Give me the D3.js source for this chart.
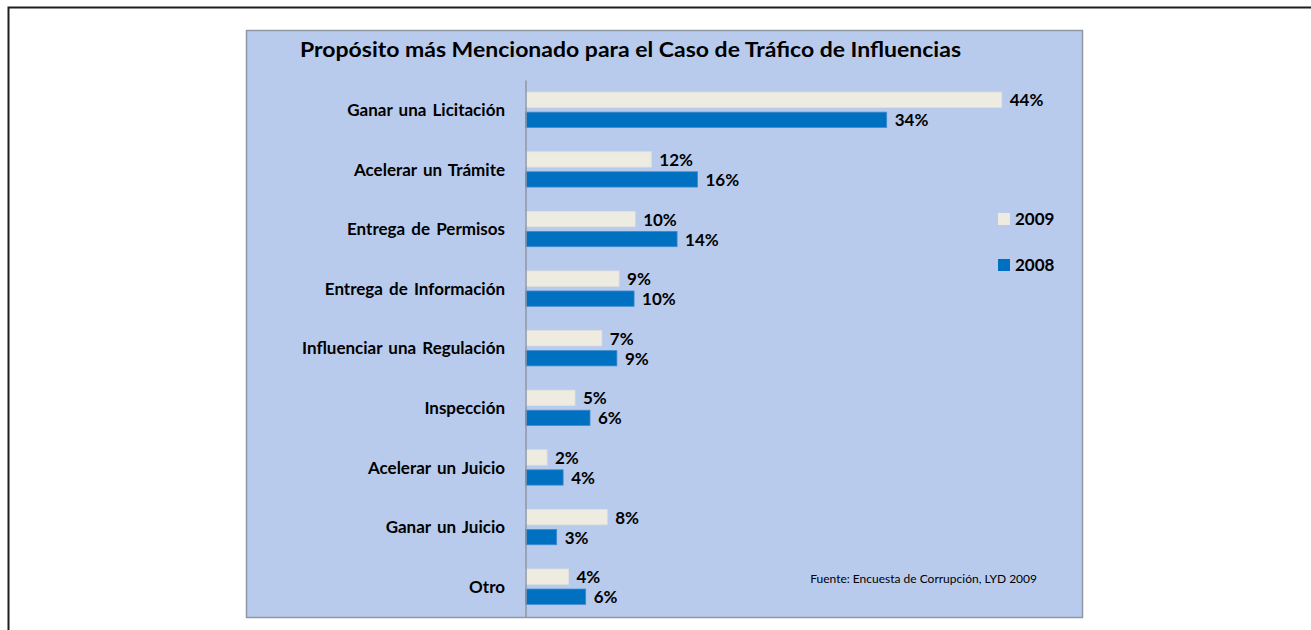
<!DOCTYPE html>
<html>
<head>
<meta charset="utf-8">
<script src="https://cdn.jsdelivr.net/npm/d3@7"></script>
<style>
  html, body { margin: 0; padding: 0; background: #fff; }
  svg { display: block; font-family: Lato, "Open Sans", sans-serif; }
</style>
</head>
<body>
<svg id="chart" width="1311" height="630"></svg>
<script>
// Data (percent)
var categories = ["Ganar una Licitación", "Acelerar un Trámite", "Entrega de Permisos",
  "Entrega de Información", "Influenciar una Regulación", "Inspección",
  "Acelerar un Juicio", "Ganar un Juicio", "Otro"];
var series = ["2009", "2008"];
var values2009 = [44.3, 11.7, 10.2, 8.7, 7.1, 4.6, 2.0, 7.6, 4.0];
var values2008 = [33.6, 16.0, 14.1, 10.1, 8.5, 6.0, 3.5, 2.9, 5.6];
var colors = ["#EEECE1", "#0070C0"];
var title = "Propósito más Mencionado para el Caso de Tráfico de Influencias";
var source = "Fuente: Encuesta de Corrupción, LYD 2009";

var svg = d3.select("#chart");

// Outer frame (runs off the right and bottom of the picture)
svg.append("path")
  .attr("d", "M8.5,630 L8.5,7.5 L1311,7.5")
  .attr("fill", "none")
  .attr("stroke", "#1e1e1e")
  .attr("stroke-width", 2);

// Chart panel
var panel = { x: 246, y: 30, w: 836, h: 587 };
svg.append("rect")
  .attr("x", panel.x + 0.5)
  .attr("y", panel.y + 0.5)
  .attr("width", panel.w)
  .attr("height", panel.h)
  .attr("fill", "#B9CBED")
  .attr("stroke", "#8f96a4")
  .attr("stroke-width", 1.5);

// Title
svg.append("text")
  .attr("x", 300)
  .attr("y", 57)
  .attr("font-size", "21px")
  .attr("font-weight", "700")
  .attr("fill", "#000")
  .attr("textLength", 661)
  .attr("lengthAdjust", "spacingAndGlyphs")
  .text(title);

// Scales
var plotLeft = 525.5, plotTop = 80, plotBottom = 616.5;
var x = d3.scaleLinear().domain([0, 50]).range([plotLeft, plotLeft + 537.5]);
var y = d3.scaleBand().domain(categories).range([plotTop, plotBottom]);
var ySub = d3.scaleBand().domain(series).range([0, 35.3]).paddingInner(0.235);

var rows = categories.map(function(c, i) {
  return { cat: c, vals: [values2009[i], values2008[i]] };
});

// Bars, one group per category
var groups = svg.selectAll("g.cat")
  .data(rows)
  .enter()
  .append("g")
  .attr("class", "cat")
  .attr("transform", function(d) {
    return "translate(0," + (y(d.cat) + y.bandwidth() / 2 - 17.65) + ")";
  });

groups.selectAll("rect")
  .data(function(d) { return d.vals.map(function(v, j) { return { s: series[j], v: v, j: j }; }); })
  .enter()
  .append("rect")
  .attr("x", x(0))
  .attr("y", function(d) { return ySub(d.s); })
  .attr("width", function(d) { return x(d.v) - x(0); })
  .attr("height", ySub.bandwidth())
  .attr("fill", function(d) { return colors[d.j]; })
  .attr("stroke", function(d) { return d.j === 0 ? "#e2e1dc" : "#3f8ad0"; })
  .attr("stroke-width", 0.8);

// Value labels
groups.selectAll("text")
  .data(function(d) { return d.vals.map(function(v, j) { return { s: series[j], v: v }; }); })
  .enter()
  .append("text")
  .attr("x", function(d) { return x(d.v) + 8; })
  .attr("y", function(d) { return ySub(d.s) + ySub.bandwidth() / 2 + 6.5; })
  .attr("font-size", "17px")
  .attr("font-weight", "700")
  .attr("fill", "#000")
  .text(function(d) { return Math.round(d.v) + "%"; });

// Category axis
var yAxis = svg.append("g")
  .attr("transform", "translate(" + plotLeft + ",0)")
  .call(d3.axisLeft(y).tickSize(0).tickPadding(20.5));
yAxis.select(".domain")
  .attr("stroke", "#8f96a4")
  .attr("stroke-width", 1.5);
yAxis.selectAll("text")
  .attr("font-family", "Lato, sans-serif")
  .attr("font-size", "17px")
  .attr("font-weight", "700")
  .attr("word-spacing", "2px")
  .attr("fill", "#000")
  .attr("dy", "0.36em");

// Legend
var legend = svg.selectAll("g.legend")
  .data(series)
  .enter()
  .append("g")
  .attr("class", "legend")
  .attr("transform", function(d, i) { return "translate(998," + (213 + i * 46) + ")"; });
legend.append("rect")
  .attr("width", 12)
  .attr("height", 12)
  .attr("fill", function(d, i) { return colors[i]; });
legend.append("text")
  .attr("x", 17)
  .attr("y", 11.5)
  .attr("font-size", "17px")
  .attr("font-weight", "700")
  .attr("fill", "#000")
  .text(function(d) { return d; });

// Source note
svg.append("text")
  .attr("x", 1037)
  .attr("y", 583)
  .attr("text-anchor", "end")
  .attr("font-size", "12px")
  .attr("fill", "#000")
  .text(source);
</script>
</body>
</html>
